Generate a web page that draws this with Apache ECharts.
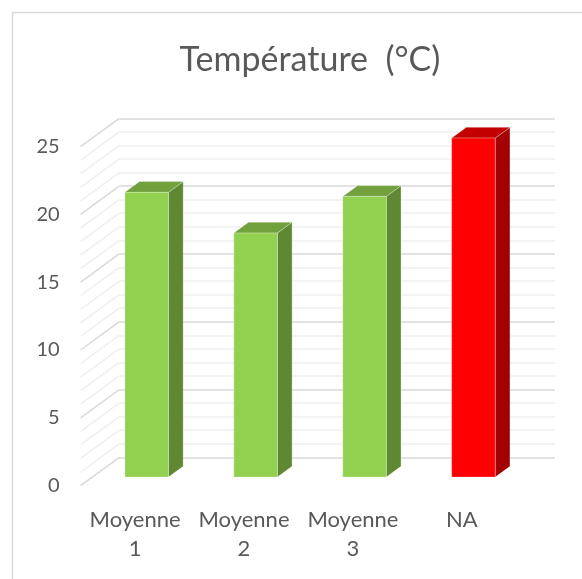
<!DOCTYPE html>
<html>
<head>
<meta charset="utf-8">
<script src="https://cdn.jsdelivr.net/npm/echarts@6/dist/echarts.min.js"></script>
<style>
  html, body { margin: 0; padding: 0; background: #ffffff; }
  #chart { width: 582px; height: 579px; }
</style>
</head>
<body>
<div id="chart"></div>
<script>
// Data
const categories = ['Moyenne 1', 'Moyenne 2', 'Moyenne 3', 'NA'];
const temperatures = [21, 18, 20.7, 25];
const frontColors = ['#92d050', '#92d050', '#92d050', '#ff0000'];
const sideColors = ['#5f8832', '#5f8832', '#5f8832', '#a30000'];
const topColors = ['#71a03d', '#71a03d', '#71a03d', '#c20000'];
const valueMin = 0;
const valueMax = 25;
const valueStep = 5;
const minorStep = 1;

// Oblique 3D layout: a front plane and a back wall shifted by the depth vector
const FRONT = { left: 80.6, top: 146.6, width: 435.7, height: 339 };
const DEPTH = { x: 38.7, y: -28.3 };
const BAR_RATIO = 0.4;     // bar width relative to category band
const BAR_FRONT = 0.3;     // depth fraction where the bar's front face sits
const BAR_DEPTH = 0.38;    // depth fraction occupied by the bar
const TEXT = '#595959';
const FONT = 'Lato';

// Side-wall grid values (every minor step)
const wallValues = [];
for (let v = valueMin; v <= valueMax; v += minorStep) wallValues.push([0, v]);

const chart = echarts.init(document.getElementById('chart'), null, { renderer: 'canvas' });

const valueAxisBase = { type: 'value', min: valueMin, max: valueMax, interval: valueStep };

chart.setOption({
  animation: false,
  backgroundColor: '#ffffff',
  title: {
    text: 'Température  (°C)',
    left: 305,
    top: 38,
    textAlign: 'center',
    textStyle: { fontFamily: FONT, fontSize: 34, fontWeight: 'normal', color: TEXT }
  },
  graphic: [{
    type: 'rect',
    shape: { x: 12.5, y: 12.5, width: 640, height: 640 },
    style: { fill: null, stroke: '#d9d9d9', lineWidth: 1.5 },
    silent: true,
    z: -10
  }],
  grid: [
    { // back wall
      left: FRONT.left + DEPTH.x, top: FRONT.top + DEPTH.y,
      width: FRONT.width, height: FRONT.height
    },
    { // front plane
      left: FRONT.left, top: FRONT.top,
      width: FRONT.width, height: FRONT.height
    }
  ],
  xAxis: [
    { gridIndex: 0, type: 'category', data: categories, show: false },
    {
      gridIndex: 1, type: 'category', data: categories,
      axisLine: { show: false }, axisTick: { show: false },
      axisLabel: {
        interval: 0, hideOverlap: false,
        fontFamily: FONT, fontSize: 22, color: TEXT, margin: 20, lineHeight: 29,
        formatter: s => s.replace(' ', '\n')
      }
    }
  ],
  yAxis: [
    Object.assign({}, valueAxisBase, {
      gridIndex: 0,
      axisLine: { show: false }, axisTick: { show: false }, axisLabel: { show: false },
      splitLine: { show: true, lineStyle: { color: '#d9d9d9', width: 1.5 } },
      minorTick: { show: false, splitNumber: valueStep / minorStep },
      minorSplitLine: { show: true, lineStyle: { color: '#efefef', width: 1.5 } }
    }),
    Object.assign({}, valueAxisBase, {
      gridIndex: 1,
      axisLine: { show: false }, axisTick: { show: false },
      splitLine: { show: false },
      axisLabel: { fontFamily: FONT, fontSize: 20, color: TEXT, margin: 21 }
    })
  ],
  series: [
    { // side wall grid lines
      type: 'custom',
      xAxisIndex: 1, yAxisIndex: 1,
      silent: true,
      z: 1,
      data: wallValues,
      renderItem: function (params, api) {
        const v = api.value(1);
        const y = api.coord([0, v])[1];
        const x = params.coordSys.x;
        const major = v % valueStep === 0;
        return {
          type: 'line',
          shape: { x1: x, y1: y, x2: x + DEPTH.x, y2: y + DEPTH.y },
          style: { stroke: major ? '#d9d9d9' : '#efefef', lineWidth: 1.5 }
        };
      }
    },
    { // 3D columns
      type: 'custom',
      xAxisIndex: 1, yAxisIndex: 1,
      z: 5,
      data: temperatures.map((v, i) => [i, v]),
      renderItem: function (params, api) {
        const i = api.value(0);
        const v = api.value(1);
        const base = api.coord([i, 0]);
        const top = api.coord([i, v]);
        const w = api.size([1, 0])[0] * BAR_RATIO;
        const ox = DEPTH.x * BAR_FRONT, oy = DEPTH.y * BAR_FRONT;
        const dx = DEPTH.x * BAR_DEPTH, dy = DEPTH.y * BAR_DEPTH;
        const xl = base[0] - w / 2 + ox, xr = base[0] + w / 2 + ox;
        const yb = base[1] + oy, yt = top[1] + oy;
        const edge = { stroke: 'rgba(255,255,255,0.35)', lineWidth: 0.8 };
        return {
          type: 'group',
          children: [
            {
              type: 'polygon',
              shape: { points: [[xr, yb], [xr, yt], [xr + dx, yt + dy], [xr + dx, yb + dy]] },
              style: Object.assign({ fill: sideColors[i] }, edge)
            },
            {
              type: 'polygon',
              shape: { points: [[xl, yt], [xr, yt], [xr + dx, yt + dy], [xl + dx, yt + dy]] },
              style: Object.assign({ fill: topColors[i] }, edge)
            },
            {
              type: 'rect',
              shape: { x: xl, y: yt, width: xr - xl, height: yb - yt },
              style: Object.assign({ fill: frontColors[i] }, edge)
            }
          ]
        };
      }
    }
  ]
});
</script>
</body>
</html>
